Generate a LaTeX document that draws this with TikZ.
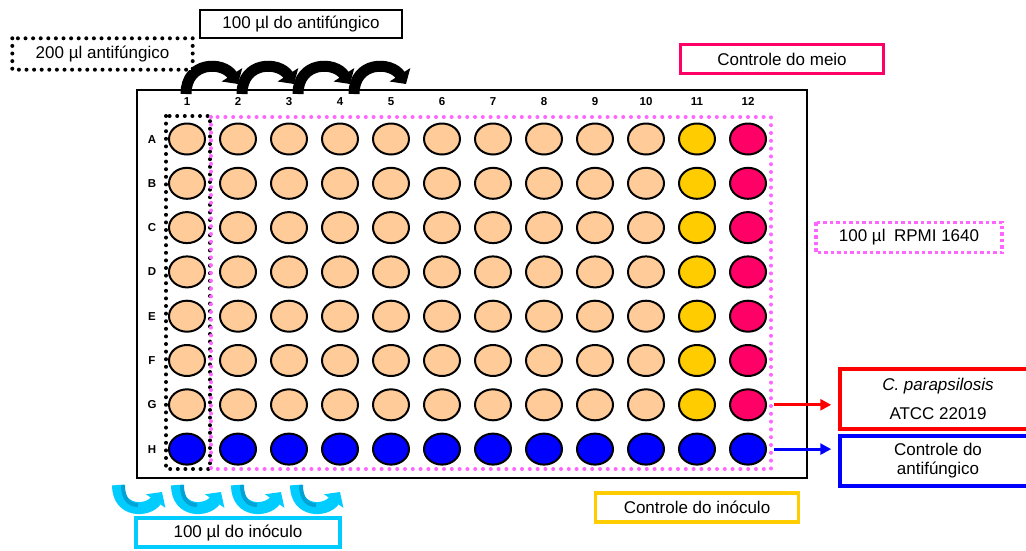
\documentclass[tikz,border=0pt]{standalone}
\usepackage{fontspec}
\setmainfont{Liberation Sans}
\usetikzlibrary{shapes.geometric,arrows.meta}
\definecolor{peach}{HTML}{FFCC99}
\definecolor{gold}{HTML}{FFCC00}
\definecolor{crimson}{HTML}{FF0066}
\definecolor{pinkdot}{HTML}{FF66FF}
\definecolor{cyanarr}{HTML}{00CCFF}
\definecolor{cyandark}{HTML}{00A3D6}
\definecolor{pureblue}{HTML}{0000FF}
\definecolor{purered}{HTML}{FF0000}
\begin{document}
\begin{tikzpicture}[x=1pt,y=-1pt,
  well/.style={ellipse,draw=black,line width=2pt,minimum width=36pt,minimum height=31pt,inner sep=0pt},
  lbl/.style={font=\fontsize{17}{20}\selectfont,inner sep=0pt,align=center},
  idx/.style={font=\bfseries\fontsize{11.5}{13}\selectfont,inner sep=0pt,anchor=base},
  blackdots/.style={draw=black,line width=4pt,dash pattern=on 0pt off 7.6pt,line cap=round},
  pinkdots/.style={draw=pinkdot,line width=4pt,dash pattern=on 0pt off 7.8pt,line cap=round},
  toparrow/.style={line width=11pt,-{Triangle[length=11pt,width=24pt]}},
  botarrow/.style={cyanarr,line width=12pt,-{Triangle[length=11pt,width=23pt]}},
  conn/.style={line width=3pt,-{Triangle[length=11pt,width=11pt]},shorten >=7pt}
]
\useasboundingbox (0,0) rectangle (1026,550);
\fill[white] (0,0) rectangle (1026,550);

% top transfer arrows
\foreach \x in {178,234,290,346}{
  \draw[toparrow] (\x+8,94) .. controls (\x+8,61) and (\x+45,61) .. (\x+60,84);
}
% plate
\draw[line width=2.5pt] (137,90) rectangle (807,478);

% bottom inoculum arrows
\foreach \x in {110,169,229,288}{
  \draw[botarrow] (\x+8,485) .. controls (\x+8,513) and (\x+38,512) .. (\x+52,492);
  \draw[cyandark,line width=4pt] (\x+13,485) .. controls (\x+13,500) and (\x+20,505) .. (\x+28,505);
}

% dotted regions
\draw[blackdots] (166,116) rectangle (210,469);
\draw[pinkdots] (211,117) rectangle (771,469);

% labels of columns and rows
\foreach \c in {1,...,12}{
  \node[idx] (col\c) at ({187+51*(\c-1)},105) {\c};
}
\foreach \r/\L in {0/A,1/B,2/C,3/D,4/E,5/F,6/G,7/H}{
  \node[idx] (row\L) at (152,{143+44.3*\r}) {\L};
}

% wells
\foreach \r in {0,...,7}{
  \foreach \c in {1,...,12}{
    \ifnum\r=7
      \def\wc{pureblue}
    \else
      \ifnum\c=11 \def\wc{gold}\else
        \ifnum\c=12 \def\wc{crimson}\else \def\wc{peach}\fi
      \fi
    \fi
    \node[well,fill=\wc] (w-\r-\c) at ({187+51*(\c-1)},{139+44.3*\r}) {};
  }
}

% label boxes
\node[lbl,draw=black,line width=2pt,fill=white,minimum width=202pt,minimum height=28pt] (antif) at (301,23.5) {100 µl do antifúngico};
\node[lbl,fill=white,minimum width=180pt,minimum height=31pt] (antif2) at (102.5,54) {200 µl antifúngico};
\draw[blackdots] (antif2.north west) rectangle (antif2.south east);
\node[lbl,draw=crimson,line width=3.5pt,minimum width=203pt,minimum height=29pt] (meio) at (782,59) {Controle do meio};
\node[lbl,minimum width=186pt,minimum height=30pt] (rpmi) at (909,237.5) {100 µl\enspace RPMI 1640};
\draw[pinkdot,line width=3.5pt,dash pattern=on 3.5pt off 3pt] (rpmi.north west) rectangle (rpmi.south east);
\node[lbl,draw=purered,line width=3.5pt,minimum width=196pt,minimum height=60pt] (cpara) at (938,399) {{\itshape C. parapsilosis}\\[9pt]ATCC 22019};
\node[lbl,font=\fontsize{17}{19}\selectfont,draw=pureblue,line width=3.5pt,minimum width=196pt,minimum height=50pt] (cantif) at (938,461) {Controle do\\antifúngico};
\node[lbl,draw=gold,line width=3.5pt,minimum width=203pt,minimum height=29pt] (cinoc) at (697,507.5) {Controle do inóculo};
\node[lbl,draw=cyanarr,line width=3.5pt,minimum width=204pt,minimum height=29pt] (inoc) at (238,532.5) {100 µl do inóculo};

% connectors
\draw[conn,purered] ([xshift=7pt]w-6-12.east) -- (cpara.west |- w-6-12.east);
\draw[conn,pureblue] ([xshift=7pt]w-7-12.east) -- (cantif.west |- w-7-12.east);
\end{tikzpicture}
\end{document}
